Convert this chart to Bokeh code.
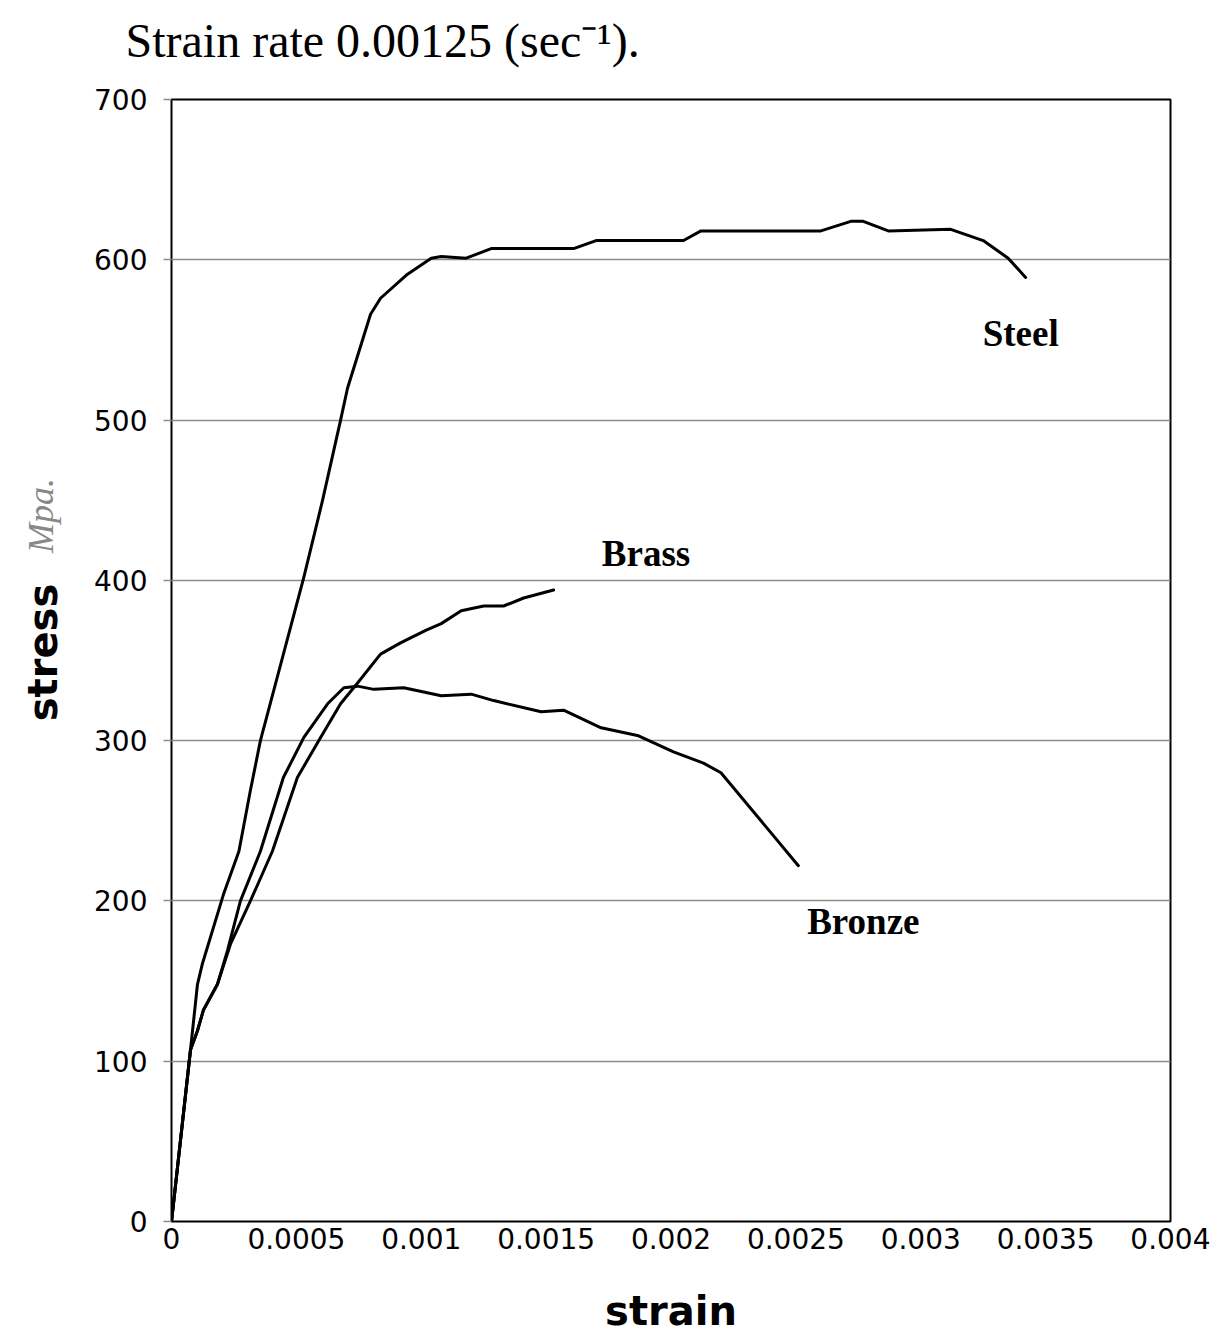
import math
from bokeh.plotting import figure
from bokeh.models import FixedTicker, Label
from bokeh.embed import file_html
from bokeh.resources import INLINE

# ---- data ----
steel_strain = [0, 0.000076, 0.000104, 0.000124, 0.00021, 0.00027, 0.000316, 0.000356, 0.00053,
                0.000605, 0.000677, 0.000705, 0.000797, 0.000837, 0.000945, 0.00104, 0.00108,
                0.00118, 0.00128, 0.00161, 0.0017, 0.00205, 0.00212, 0.0026, 0.00272, 0.00277,
                0.00287, 0.00312, 0.00325, 0.00335, 0.00342]
steel_stress = [0, 107, 148, 161, 205, 231, 269, 300, 402,
                450, 500, 520, 566, 576, 591, 601, 602,
                601, 607, 607, 612, 612, 618, 618, 624, 624,
                618, 619, 612, 601, 589]

brass_strain = [0, 0.000076, 0.000104, 0.000128, 0.000184, 0.000236, 0.000316, 0.000404, 0.000504,
                0.000597, 0.000677, 0.000745, 0.000837, 0.000917, 0.00102, 0.00108, 0.00116,
                0.00125, 0.00133, 0.00141, 0.00153]
brass_stress = [0, 107, 119, 132, 148, 173, 200, 231, 277,
                302, 323, 336, 354, 361, 369, 373, 381,
                384, 384, 389, 394]

bronze_strain = [0, 0.000076, 0.000104, 0.000128, 0.000184, 0.000224, 0.000276, 0.000356, 0.000448,
                 0.00053, 0.000625, 0.00069, 0.000745, 0.00081, 0.00093, 0.00108, 0.0012,
                 0.00129, 0.00148, 0.00157, 0.00172, 0.00187, 0.00201, 0.00213, 0.0022, 0.00251]
bronze_stress = [0, 107, 119, 132, 148, 169, 200, 231, 277,
                 302, 323, 333, 334, 332, 333, 328, 329,
                 325, 318, 319, 308, 303, 293, 286, 280, 222]

x_ticks = [0.0, 0.0005, 0.001, 0.0015, 0.002, 0.0025, 0.003, 0.0035, 0.004]
x_tick_labels = ["0", "0.0005", "0.001", "0.0015", "0.002", "0.0025", "0.003", "0.0035", "0.004"]
y_ticks = [0, 100, 200, 300, 400, 500, 600, 700]

series_names = ["Steel", "Brass", "Bronze"]
label_strain = [0.0034, 0.0019, 0.00277]
label_stress = [554, 417, 187]

title_text = "Strain rate 0.00125 (sec\u207b\u00b9)."
y_label_text = "stress"
unit_note = "Mpa."

# ---- figure ----
p = figure(width=1210, height=1344, x_range=(0, 0.004), y_range=(0, 700),
           output_backend="svg", toolbar_location=None, title=None,
           min_border_left=171, min_border_right=40, min_border_top=99, min_border_bottom=123)

p.outline_line_color = "black"
p.outline_line_width = 2
p.background_fill_color = "white"
p.border_fill_color = "white"

# axes
xa = p.xaxis[0]
xa.ticker = FixedTicker(ticks=x_ticks)
xa.major_label_overrides = dict(zip(x_ticks, x_tick_labels))
xa.major_tick_out = 0
xa.major_tick_in = 0
xa.minor_tick_out = 0
xa.minor_tick_in = 0
xa.axis_line_color = None
xa.major_label_text_font = "DejaVu Sans"
xa.major_label_text_font_size = "28px"
xa.major_label_text_color = "black"
xa.major_label_standoff = 6
xa.axis_label = "strain"
xa.axis_label_text_font = "DejaVu Sans"
xa.axis_label_text_font_style = "bold"
xa.axis_label_text_font_size = "40px"
xa.axis_label_text_color = "black"
xa.axis_label_standoff = 36

ya = p.yaxis[0]
ya.ticker = FixedTicker(ticks=y_ticks)
ya.major_tick_out = 8
ya.major_tick_in = 0
ya.minor_tick_out = 0
ya.minor_tick_in = 0
ya.major_tick_line_color = "#8c8c8c"
ya.major_tick_line_width = 1.5
ya.axis_line_color = None
ya.major_label_text_font = "DejaVu Sans"
ya.major_label_text_font_size = "28px"
ya.major_label_text_color = "black"
ya.major_label_standoff = 16

p.xgrid.visible = False
p.ygrid.ticker = FixedTicker(ticks=y_ticks)
p.ygrid.grid_line_color = "#8c8c8c"
p.ygrid.grid_line_width = 1.5

# curves
for xs, ys in [(steel_strain, steel_stress), (brass_strain, brass_stress), (bronze_strain, bronze_stress)]:
    p.line(xs, ys, line_color="black", line_width=3, line_join="round", line_cap="round")

# curve labels
for name, lx, ly in zip(series_names, label_strain, label_stress):
    p.add_layout(Label(x=lx, y=ly, text=name, text_font="Liberation Serif",
                       text_font_style="bold", text_font_size="37px", text_color="black",
                       text_align="center", text_baseline="middle"))

# y axis label and the handwritten unit note, in the left side panels
p.add_layout(Label(x=-3, y=569, x_units="screen", y_units="screen", text=y_label_text,
                   angle=math.pi / 2, text_font="DejaVu Sans", text_font_style="bold",
                   text_font_size="40px", text_color="black",
                   text_align="center", text_baseline="middle"), "left")
p.add_layout(Label(x=35, y=706, x_units="screen", y_units="screen", text=unit_note,
                   angle=math.pi / 2, text_font="Liberation Serif", text_font_style="italic",
                   text_font_size="36px", text_color="#888888",
                   text_align="center", text_baseline="middle"), "left")

# title, in the top side panel
p.add_layout(Label(x=-46, y=59, x_units="screen", y_units="screen", text=title_text,
                   text_font="Liberation Serif", text_font_size="48px", text_color="black",
                   text_align="left", text_baseline="middle"), "above")

open("out.html", "w").write(file_html(p, INLINE))
